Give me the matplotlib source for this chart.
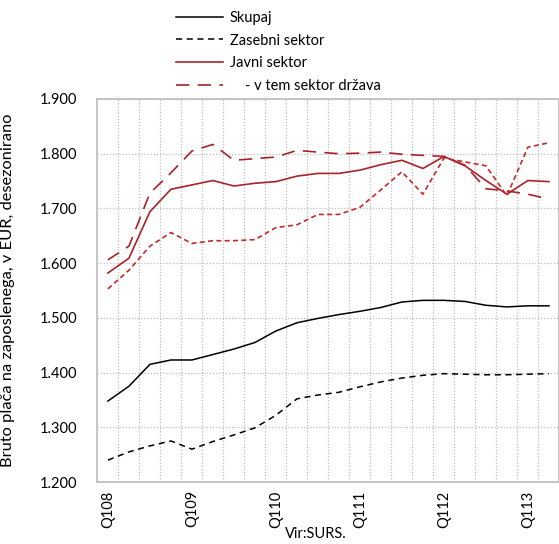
import matplotlib
matplotlib.use("Agg")
import matplotlib.pyplot as plt
from matplotlib.lines import Line2D

plt.rcParams["font.family"] = ["Lato", "DejaVu Sans"]

# quarters Q1 2008 .. Q2 2013
quarters = ["Q1%02d" % y if q == 1 else "" for y in range(8, 14) for q in range(1, 5)][:22]

skupaj = [1348, 1375, 1415, 1423, 1423, 1433, 1443, 1455, 1476, 1491, 1499,
          1506, 1512, 1519, 1529, 1532, 1532, 1530, 1523, 1520, 1522, 1522]
zasebni = [1240, 1255, 1266, 1275, 1260, 1274, 1286, 1299, 1322, 1352, 1359,
           1364, 1374, 1383, 1390, 1395, 1398, 1397, 1396, 1396, 1397, 1398]
javni = [1582, 1609, 1694, 1735, 1743, 1751, 1741, 1746, 1749, 1759, 1764,
         1764, 1770, 1780, 1788, 1773, 1795, 1778, 1751, 1726, 1751, 1749]
drzava = [1606, 1631, 1728, 1765, 1805, 1817, 1788, 1791, 1794, 1806, 1803,
          1800, 1801, 1803, 1799, 1797, 1795, 1779, 1736, 1732, 1726, 1717]
ostalo = [1553, 1587, 1631, 1656, 1636, 1641, 1641, 1643, 1665, 1670, 1689,
          1689, 1702, 1734, 1767, 1726, 1792, 1785, 1778, 1723, 1812, 1820]

red = "#a8232a"
red2 = "#c4282c"

fig = plt.figure(figsize=(5.59, 5.44), dpi=100)
ax = fig.add_axes([97 / 559, 62 / 544, 462 / 559, 383 / 544])

x = range(len(skupaj))
ax.plot(x, skupaj, color="black", lw=1.1)
ax.plot(x, zasebni, color="black", lw=1.1, dashes=(4, 3))
ax.plot(x, javni, color=red, lw=1.2)
ax.plot(x, drzava, color=red, lw=1.2, dashes=(8, 5))
ax.plot(x, ostalo, color=red2, lw=1.2, dashes=(3, 2))

ax.set_xlim(-0.52, 21.48)
ax.set_ylim(1200, 1900)
ax.set_yticks(range(1200, 1901, 100))
ax.set_yticklabels([f"{v // 1000}.{v % 1000:03d}" for v in range(1200, 1901, 100)],
                   fontsize=10.5)

ax.set_xticks(list(x))
ax.set_xticklabels(quarters, rotation=90, fontsize=10.5, va="top")
ax.set_xticks([i + 0.5 for i in range(21)], minor=True)
ax.tick_params(axis="both", which="both", length=0)
ax.tick_params(axis="y", pad=14)
ax.tick_params(axis="x", pad=6)

ax.grid(True, axis="y", which="major", color="#bdbdbd", ls=(0, (1, 1.5)), lw=0.9)
ax.grid(True, axis="x", which="minor", color="#bdbdbd", ls=(0, (1, 1.5)), lw=0.9)
ax.grid(False, axis="x", which="major")
for s in ax.spines.values():
    s.set_color("#c0c0c0")
    s.set_linewidth(1.3)

ax.set_ylabel("Bruto plača na zaposlenega, v EUR, desezonirano", fontsize=11.8)
ax.yaxis.set_label_coords(-0.178, 0.5)

handles = [
    Line2D([], [], color="black", lw=1.1),
    Line2D([], [], color="black", lw=1.1, dashes=(4, 3)),
    Line2D([], [], color=red, lw=1.2),
    Line2D([], [], color=red, lw=1.2, dashes=(8, 5)),
]
labels = ["Skupaj", "Zasebni sektor", "Javni sektor", "    - v tem sektor država"]
fig.legend(handles, labels, loc="upper left", bbox_to_anchor=(170 / 559, 1 - 5 / 544),
           frameon=False, fontsize=10.5, handlelength=3.2, handletextpad=0.5,
           labelspacing=0.6, borderaxespad=0)

fig.text(285 / 559, 1 - 527 / 544, "Vir:SURS.", fontsize=10.5, ha="left", va="top")

fig.savefig("out.png", dpi=100)
